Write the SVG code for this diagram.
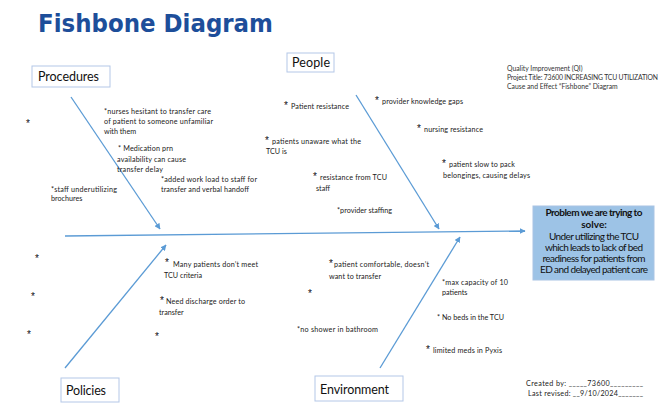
<svg xmlns="http://www.w3.org/2000/svg" width="666" height="409" viewBox="0 0 666 409">
<defs>
<marker id="arr" viewBox="0 0 10 10" refX="9" refY="5" markerWidth="6" markerHeight="6" orient="auto" markerUnits="userSpaceOnUse">
<path d="M0,0 L10,5 L0,10 z" fill="#5B9BD5"/>
</marker>
<style>
.bone{stroke:#5B9BD5;stroke-width:1.3;fill:none;marker-end:url(#arr)}
.box{fill:#fff;stroke:#B4C7E7;stroke-width:1}
.lbl{font-family:Lato,"Liberation Sans",sans-serif;font-size:12.5px;fill:#111}
.t{font-family:Lato,"Liberation Sans",sans-serif;font-size:7.2px;fill:#1a1a1a}
.st{font-family:"Liberation Sans",sans-serif;font-size:10px;fill:#111}
.info{font-family:Lato,"Liberation Sans",sans-serif;font-size:6.8px;fill:#333}
.pb{font-family:Lato,"Liberation Sans",sans-serif;font-size:10px;fill:#111;text-anchor:middle}
</style>
</defs>
<rect width="666" height="409" fill="#fff"/>
<text x="38" y="32" font-family="'DejaVu Sans',Verdana,sans-serif" font-weight="bold" font-size="25" fill="#1D4E9A" textLength="235" lengthAdjust="spacingAndGlyphs">Fishbone Diagram</text>

<g id="info">
<text class="info" x="507" y="71">Quality Improvement (QI)</text>
<text class="info" x="507" y="80" textLength="151">Project Title: 73600 INCREASING TCU UTILIZATION</text>
<text class="info" x="507" y="89">Cause and Effect “Fishbone” Diagram</text>
</g>

<g id="connectors">
<line class="bone" x1="65" y1="236" x2="525" y2="231"/>
<line class="bone" x1="71" y1="97" x2="160" y2="229"/>
<line class="bone" x1="356" y1="95" x2="439" y2="229"/>
<line class="bone" x1="65" y1="368" x2="166" y2="245"/>
<line class="bone" x1="380" y1="368" x2="460" y2="237"/>
</g>

<g id="procedures">
<rect class="box" x="32" y="66" width="78" height="21"/>
<text class="lbl" x="38" y="81" textLength="61">Procedures</text>
</g>
<g id="people">
<rect class="box" x="287" y="53" width="47" height="19"/>
<text class="lbl" x="292" y="67" textLength="38">People</text>
</g>
<g id="policies">
<rect class="box" x="61" y="378" width="58" height="24"/>
<text class="lbl" x="66" y="395" font-size="13.5" textLength="40">Policies</text>
</g>
<g id="environment">
<rect class="box" x="315" y="376" width="88" height="25"/>
<text class="lbl" x="320" y="394" font-size="13.5" textLength="69">Environment</text>
</g>
<g id="problem">
<rect x="533" y="206" width="121" height="74" fill="#9DC3E6" stroke="#A9C4E4" stroke-width="1"/>
<text class="pb" x="594" y="216" font-weight="bold" textLength="97">Problem we are trying to</text>
<text class="pb" x="594" y="228" font-weight="bold">solve:</text>
<text class="pb" x="594" y="240" textLength="90">Under utilizing the TCU</text>
<text class="pb" x="594" y="251" textLength="98">which leads to lack of bed</text>
<text class="pb" x="594" y="262" textLength="103">readiness for patients from</text>
<text class="pb" x="594" y="273" textLength="108">ED and delayed patient care</text>
</g>

<g id="procedures-causes">
<text class="st" x="26" y="127">*</text>
<text class="t" x="104" y="114" textLength="107">*nurses hesitant to transfer care</text>
<text class="t" x="104" y="124" textLength="109">of patient to someone unfamiliar</text>
<text class="t" x="104" y="134">with them</text>
<text class="t" x="118" y="151" textLength="55">* Medication prn</text>
<text class="t" x="117" y="161.5" textLength="69">availability can cause</text>
<text class="t" x="117" y="171.5" textLength="46">transfer delay</text>
<text class="t" x="161" y="182" textLength="96">*added work load to staff for</text>
<text class="t" x="161" y="192" textLength="88">transfer and verbal handoff</text>
<text class="t" x="51" y="191.5" textLength="66">*staff underutilizing</text>
<text class="t" x="51" y="201">brochures</text>
</g>

<g id="people-causes">
<text class="st" x="284" y="109">*</text>
<text class="t" x="291" y="109" textLength="58">Patient resistance</text>
<text class="st" x="375" y="104">*</text>
<text class="t" x="382" y="104" textLength="81">provider knowledge gaps</text>
<text class="st" x="417" y="131.5">*</text>
<text class="t" x="424" y="131.5" textLength="59">nursing resistance</text>
<text class="st" x="265" y="144">*</text>
<text class="t" x="272" y="144" textLength="89">patients unaware what the</text>
<text class="t" x="266" y="153.5">TCU is</text>
<text class="st" x="313" y="179.5">*</text>
<text class="t" x="320" y="179.5" textLength="67">resistance from TCU</text>
<text class="t" x="316" y="190.5">staff</text>
<text class="t" x="337" y="212.5" textLength="55">*provider staffing</text>
<text class="st" x="442" y="166.5">*</text>
<text class="t" x="449" y="166.5" textLength="66">patient slow to pack</text>
<text class="t" x="443" y="177.5" textLength="87">belongings, causing delays</text>
</g>

<g id="policies-causes">
<text class="st" x="35" y="262">*</text>
<text class="st" x="31" y="300">*</text>
<text class="st" x="27" y="338">*</text>
<text class="st" x="165" y="266">*</text>
<text class="t" x="173" y="266.5" textLength="85">Many patients don’t meet</text>
<text class="t" x="164" y="277.5" textLength="38">TCU criteria</text>
<text class="st" x="160" y="303.5">*</text>
<text class="t" x="166" y="303.5" textLength="79">Need discharge order to</text>
<text class="t" x="159" y="314.5">transfer</text>
<text class="st" x="155" y="340">*</text>
</g>

<g id="environment-causes">
<text class="st" x="329" y="266.5">*</text>
<text class="t" x="334" y="266.5" textLength="95">patient comfortable, doesn’t</text>
<text class="t" x="329" y="278.5" textLength="52">want to transfer</text>
<text class="st" x="308" y="297">*</text>
<text class="t" x="297" y="331.5" textLength="81">*no shower in bathroom</text>
<text class="t" x="442" y="284.5" textLength="66">*max capacity of 10</text>
<text class="t" x="442" y="294.5">patients</text>
<text class="t" x="437" y="319.5" textLength="67">* No beds in the TCU</text>
<text class="st" x="426" y="352.5">*</text>
<text class="t" x="433" y="352.5" textLength="69">limited meds in Pyxis</text>
</g>

<g id="footer">
<text class="t" x="526" y="385.5" font-size="7.5" textLength="117">Created by: _____73600_________</text>
<text class="t" x="528" y="395.5" font-size="7.5" textLength="115">Last revised: __9/10/2024_______</text>
</g>
</svg>
